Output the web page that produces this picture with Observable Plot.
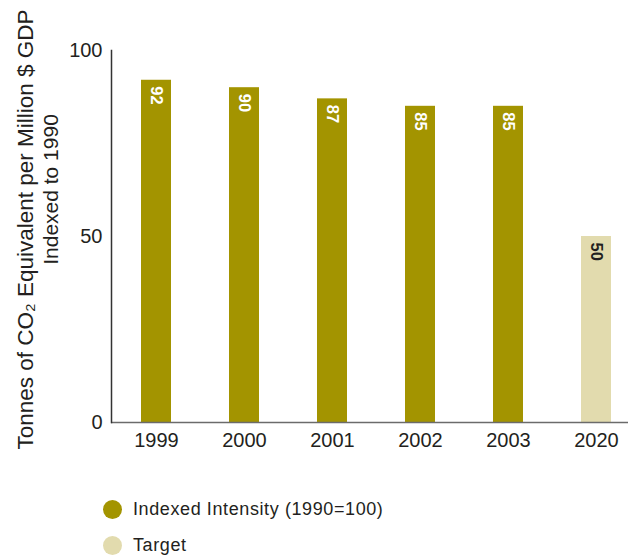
<!DOCTYPE html>
<html><head><meta charset="utf-8">
<script src="https://cdn.jsdelivr.net/npm/d3@7"></script>
<script src="https://cdn.jsdelivr.net/npm/@observablehq/plot@0.6"></script>
<style>
body{margin:0;background:#fff;font-family:"Liberation Sans",Arial,sans-serif;color:#231f20;}
#wrap{position:relative;width:628px;height:556px;overflow:hidden;}
#chart{position:absolute;left:0;top:0;}
.item{position:absolute;left:103px;height:22px;display:flex;align-items:center;font-size:18px;letter-spacing:0.6px;}
.dot{width:19px;height:19px;border-radius:50%;margin-right:11px;}
</style></head><body>
<div id="wrap"><div id="chart"></div><div id="legend"></div></div>
<script>
const years = ["1999", "2000", "2001", "2002", "2003", "2020"];
const values = [92, 90, 87, 85, 85, 50];
const seriesNames = ["Indexed Intensity (1990=100)", "Target"];
const seriesOf = [0, 0, 0, 0, 0, 1];
const colors = ["#a39400", "#e2dbae"];
const labelColors = ["#ffffff", "#231f20"];
const yTicks = [0, 50, 100];
const yTitle1 = "Tonnes of CO\u2082 Equivalent per Million $ GDP";
const yTitle2 = "Indexed to 1990";

const data = years.map((year, i) => ({year, value: values[i], series: seriesNames[seriesOf[i]]}));

const chart = Plot.plot({
  width: 628, height: 470,
  marginLeft: 111, marginRight: 0, marginTop: 50, marginBottom: 48,
  style: {fontFamily: "Liberation Sans, Arial, sans-serif", fontSize: "20px", color: "#231f20", background: "#fff"},
  x: {domain: years, range: [111, 641], paddingInner: 0.66, paddingOuter: 0.32, align: 0.5, label: null},
  y: {domain: [0, 100], label: null},
  color: {domain: seriesNames, range: colors},
  marks: [
    Plot.barY(data, {x: "year", y: "value", fill: "series"}),
    Plot.ruleY([0], {stroke: "#6b6b6b", strokeWidth: 1.6}),
    Plot.frame({anchor: "left", stroke: "#333", strokeWidth: 1.5}),
    Plot.axisY({ticks: yTicks, tickSize: 0, tickPadding: 9, fontSize: 20, label: null}),
    Plot.axisX({tickSize: 0, tickPadding: 10, fontSize: 20, label: null}),
    ...seriesNames.map((s, k) => Plot.text(data.filter(d => d.series === s), {
      x: "year", y: "value", text: d => String(d.value), rotate: 90, textAnchor: "start",
      lineAnchor: "middle", dy: 6, fill: labelColors[k], fontWeight: "bold", fontSize: 16.5
    })),
    Plot.text([yTitle1], {text: d => d, frameAnchor: "left", textAnchor: "middle", lineAnchor: "middle", rotate: -90, dx: -86, dy: -7, fontSize: 22.5, fill: "#231f20"}),
    Plot.text([yTitle2], {text: d => d, frameAnchor: "left", textAnchor: "middle", lineAnchor: "middle", rotate: -90, dx: -60, dy: -47, fontSize: 21, fill: "#231f20"})
  ]
});
document.getElementById("chart").appendChild(chart);

const legend = document.getElementById("legend");
const legendTops = [498, 534];
seriesNames.forEach((s, k) => {
  const item = document.createElement("div");
  item.className = "item";
  item.style.top = legendTops[k] + "px";
  const dot = document.createElement("span");
  dot.className = "dot";
  dot.style.background = colors[k];
  const label = document.createElement("span");
  label.textContent = s;
  item.appendChild(dot);
  item.appendChild(label);
  legend.appendChild(item);
});
</script>
</body></html>
